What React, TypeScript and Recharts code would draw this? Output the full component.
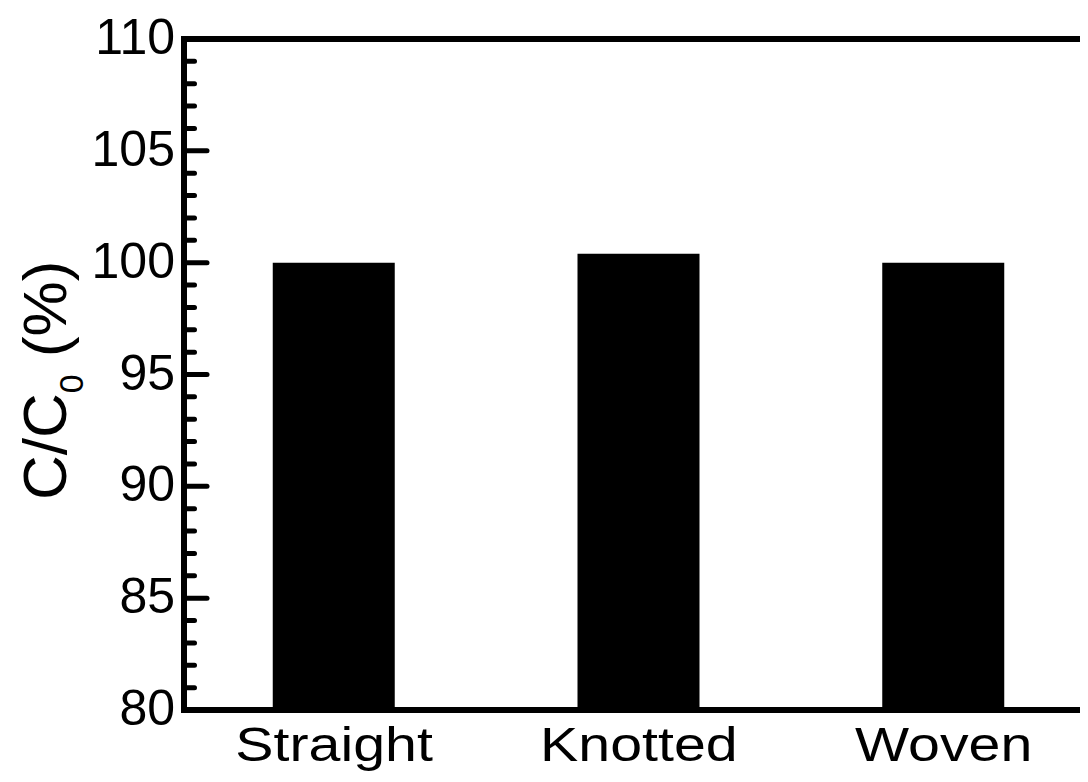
import React from "react";
import { BarChart, Bar, XAxis, YAxis, ReferenceLine } from "recharts";

const categories = ["Straight", "Knotted", "Woven"];
const retention = [100.0, 100.4, 100.0];
const yTicks = Array.from({ length: 31 }, (_, i) => 80 + i);

const data = categories.map((name, i) => ({ name, value: retention[i] }));

const FONT = "'Liberation Sans', Arial, Helvetica, sans-serif";
const FRAME = { stroke: "#000", strokeWidth: 6, strokeLinecap: "square" as const };

// inward ticks: long at every 5, short in between, labels only on the long ones
const YTick = (props: any) => {
  const { x, y, payload } = props;
  const major = payload.value % 5 === 0;
  return (
    <g>
      <line
        x1={x}
        y1={y}
        x2={x + (major ? 23 : 10.5)}
        y2={y}
        stroke="#000"
        strokeWidth={5}
        strokeLinecap="round"
      />
      {major && (
        <text x={x - 9} y={y + 15} textAnchor="end" fontSize={50} fontFamily={FONT} fill="#000">
          {payload.value}
        </text>
      )}
    </g>
  );
};

const XTick = (props: any) => {
  const { x, payload } = props;
  return (
    <text
      transform={`translate(${x}, 753) scale(1.17, 1)`}
      textAnchor="middle"
      fontSize={49}
      fontFamily={FONT}
      fill="#000"
    >
      {payload.value}
    </text>
  );
};

const YLabel = () => (
  <text
    transform="translate(58, 492) rotate(-90)"
    fontSize={62}
    fontFamily={FONT}
    fill="#000"
  >
    C/C
    <tspan fontSize={34} dy={17}>0</tspan>
    <tspan dy={-17}> (%)</tspan>
  </text>
);

export default function App() {
  return (
    <div style={{ width: 1080, height: 766, overflow: "hidden" }}>
      <BarChart
        width={1088}
        height={766}
        data={data}
        margin={{ top: 31, right: 0, bottom: 0, left: 0 }}
      >
        <XAxis
          dataKey="name"
          height={64}
          padding={{ left: -2.25, right: 0 }}
          axisLine={FRAME}
          tickLine={false}
          tick={<XTick />}
        />
        <YAxis
          width={176}
          domain={[80, 110]}
          ticks={yTicks}
          interval={0}
          allowDataOverflow
          tickSize={0}
          tickMargin={0}
          axisLine={FRAME}
          tickLine={false}
          tick={<YTick />}
          label={<YLabel />}
        />
        <ReferenceLine y={110} stroke="#000" strokeWidth={6} />
        <Bar dataKey="value" fill="#000" barSize={122} isAnimationActive={false} />
      </BarChart>
    </div>
  );
}
